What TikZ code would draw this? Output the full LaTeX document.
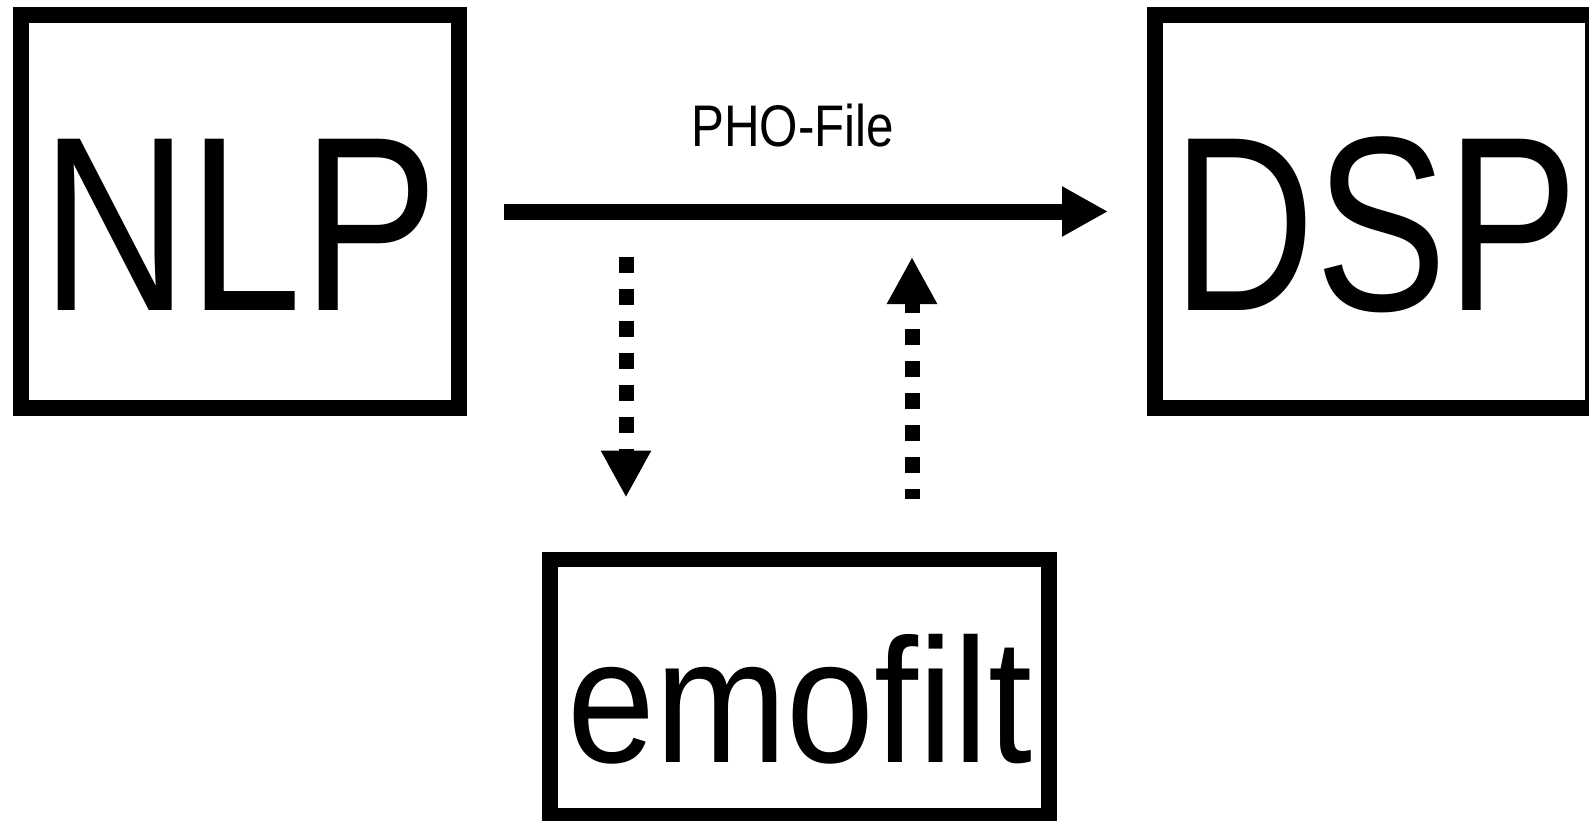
\documentclass[tikz,border=0pt]{standalone}
\usepackage{fontspec}
\setmainfont{Liberation Sans}
\usepackage{graphicx}
\usetikzlibrary{arrows.meta}
\tikzset{
  box/.style={draw=black, line width=16pt, rectangle, inner sep=0pt, outer sep=0pt},
  lbl/.style={anchor=base, inner sep=0pt, outer sep=0pt, font=\fontsize{249}{249}\selectfont},
  small/.style={anchor=base, inner sep=0pt, outer sep=0pt, font=\fontsize{58.7}{60}\selectfont},
  mainarrow/.style={line width=16pt, -{Triangle[length=46pt,width=47pt]}},
  dotarrow/.style={line width=15pt, dash pattern=on 16pt off 16pt, -{Triangle[length=47pt,width=47pt]}}
}
\begin{document}
\begin{tikzpicture}[x=1pt,y=-1pt]
\useasboundingbox (0,0) rectangle (1589,821);
\node[box, minimum width=438pt, minimum height=393pt] (nlp) at (240,211.5) {};
\node[box, minimum width=438pt, minimum height=393pt] (dsp) at (1374,211.5) {};
\node[box, line width=15.5pt, minimum width=499pt, minimum height=256.5pt] (emo) at (799.5,687.75) {};
\node[lbl] (nlpt) at (240,310) {\scalebox{0.819}[1]{NLP}};
\node[lbl] (dspt) at (1375.5,310) {\scalebox{0.794}[1]{DSP}};
\node[lbl, font=\fontsize{177}{177}\selectfont] (emot) at (800,762) {\scalebox{0.893}[1]{emofilt}};
\draw[mainarrow, shorten <=45pt, shorten >=47pt] (nlp.east) -- (dsp.west);
\node[small] (pho) at (792.5,147) {\scalebox{0.84}[1]{PHO-File}};
\coordinate (la) at (626,257);
\coordinate (ra) at (912,257);
\draw[dotarrow, shorten >=62pt] (la) -- (emo.north -| la);
\draw[dotarrow, dash phase=6pt, shorten <=61pt] (emo.north -| ra) -- (ra);
\end{tikzpicture}
\end{document}
